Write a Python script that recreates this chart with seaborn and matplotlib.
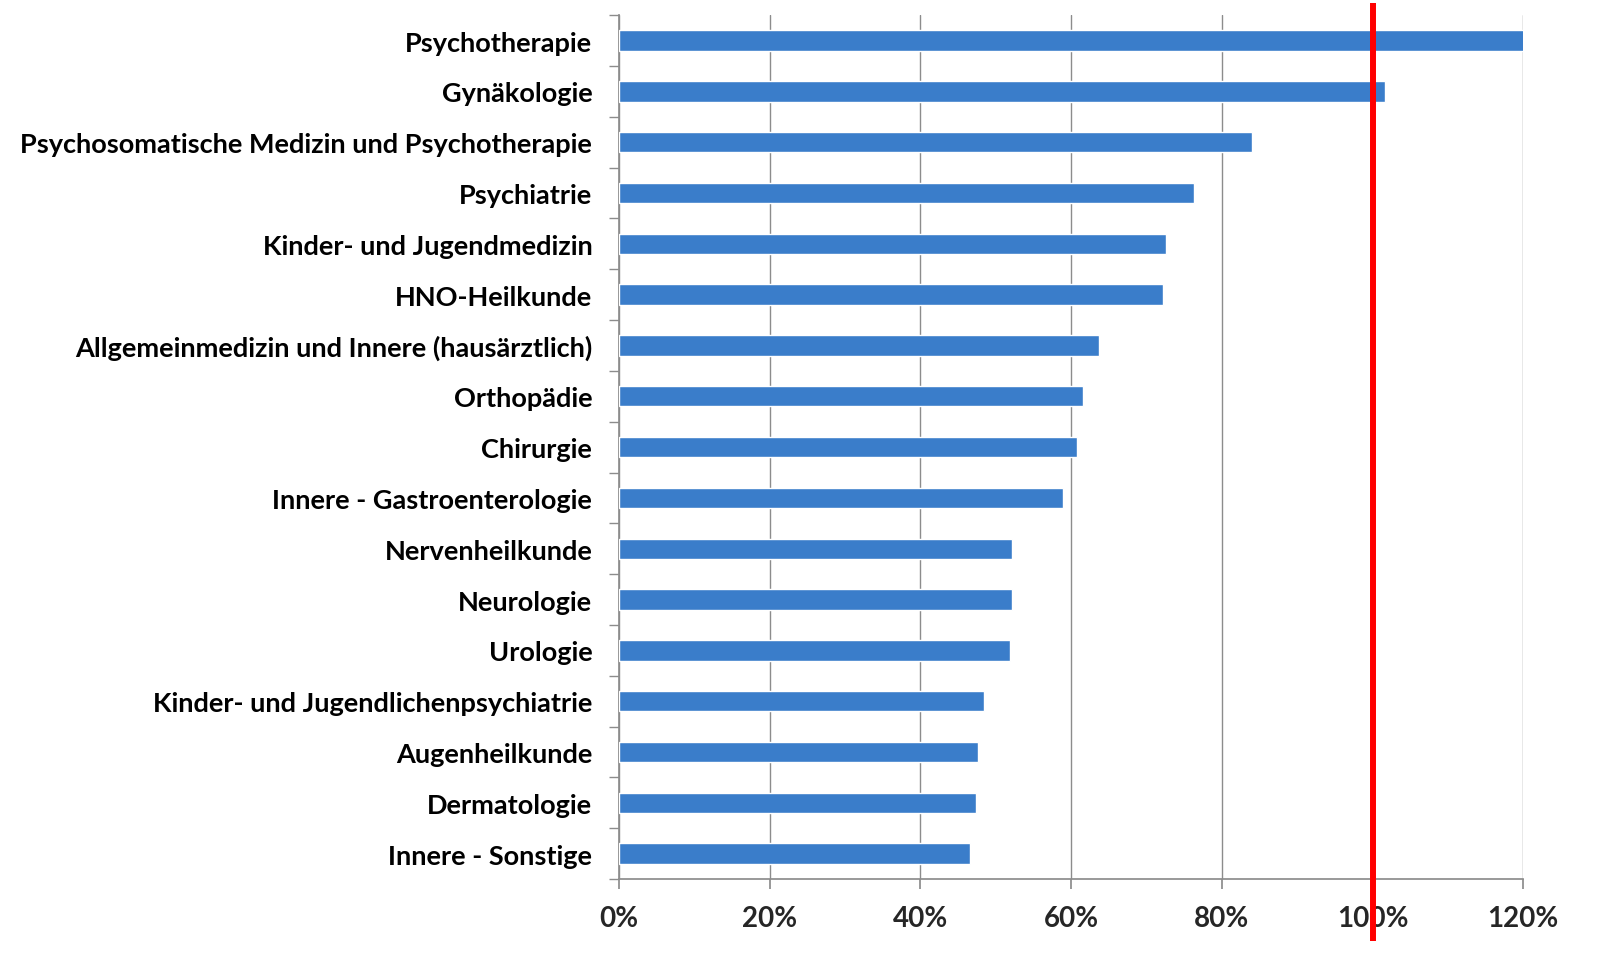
import numpy as np
import pandas as pd
import matplotlib.pyplot as plt
import seaborn as sns
from matplotlib.ticker import FixedLocator

# Daten
fachgruppen = [
    "Psychotherapie",
    "Gynäkologie",
    "Psychosomatische Medizin und Psychotherapie",
    "Psychiatrie",
    "Kinder- und Jugendmedizin",
    "HNO-Heilkunde",
    "Allgemeinmedizin und Innere (hausärztlich)",
    "Orthopädie",
    "Chirurgie",
    "Innere - Gastroenterologie",
    "Nervenheilkunde",
    "Neurologie",
    "Urologie",
    "Kinder- und Jugendlichenpsychiatrie",
    "Augenheilkunde",
    "Dermatologie",
    "Innere - Sonstige",
]
anteil = [121.0, 101.6, 84.0, 76.3, 72.6, 72.2, 63.7, 61.6, 60.8, 58.9,
          52.2, 52.2, 51.9, 48.5, 47.7, 47.4, 46.6]
x_ticks = [0, 20, 40, 60, 80, 100, 120]
referenz = 100

df = pd.DataFrame({"Fachgruppe": fachgruppen, "Anteil": anteil})

sns.set_theme(style="white")
plt.rcParams['font.family'] = ['Lato', 'DejaVu Sans']

fig = plt.figure(figsize=(16.24, 9.62), dpi=100)
ax = fig.add_axes([0.381, 0.0852, 0.557, 0.898])

sns.barplot(data=df, x="Anteil", y="Fachgruppe", orient="h", color="#3A7DCA",
            saturation=1, width=0.4, ax=ax, zorder=3)

ax.set_xlim(0, 120)
ax.set_ylim(len(fachgruppen) - 0.5, -0.5)
ax.set_xticks(x_ticks)
ax.set_xticklabels([f"{t}%" for t in x_ticks], fontsize=20, fontweight="bold")
ax.set_yticklabels(fachgruppen, fontsize=19.5, fontweight="bold")
ax.set_xlabel("")
ax.set_ylabel("")

# Gitterlinien
ax.grid(axis="x", color="#8C8C8C", linewidth=1, zorder=0)
ax.set_axisbelow(True)

# Achsen
for s in ["top", "right"]:
    ax.spines[s].set_visible(False)
ax.spines["left"].set_color("#8C8C8C")
ax.spines["bottom"].set_color("#8C8C8C")
ax.tick_params(axis="y", which="major", length=0, pad=19, colors="black")
ax.yaxis.set_minor_locator(FixedLocator(np.arange(-0.5, len(fachgruppen), 1)))
ax.tick_params(axis="y", which="minor", length=7, color="#8C8C8C", left=True)
ax.tick_params(axis="x", which="major", length=7, color="#8C8C8C", pad=12, bottom=True)

# Referenzlinie 100%
ax.axvline(referenz, ymin=-0.072, ymax=1.014, color="red", linewidth=4.3,
           clip_on=False, zorder=5, solid_capstyle="butt")

plt.savefig("out.png", dpi=100)
